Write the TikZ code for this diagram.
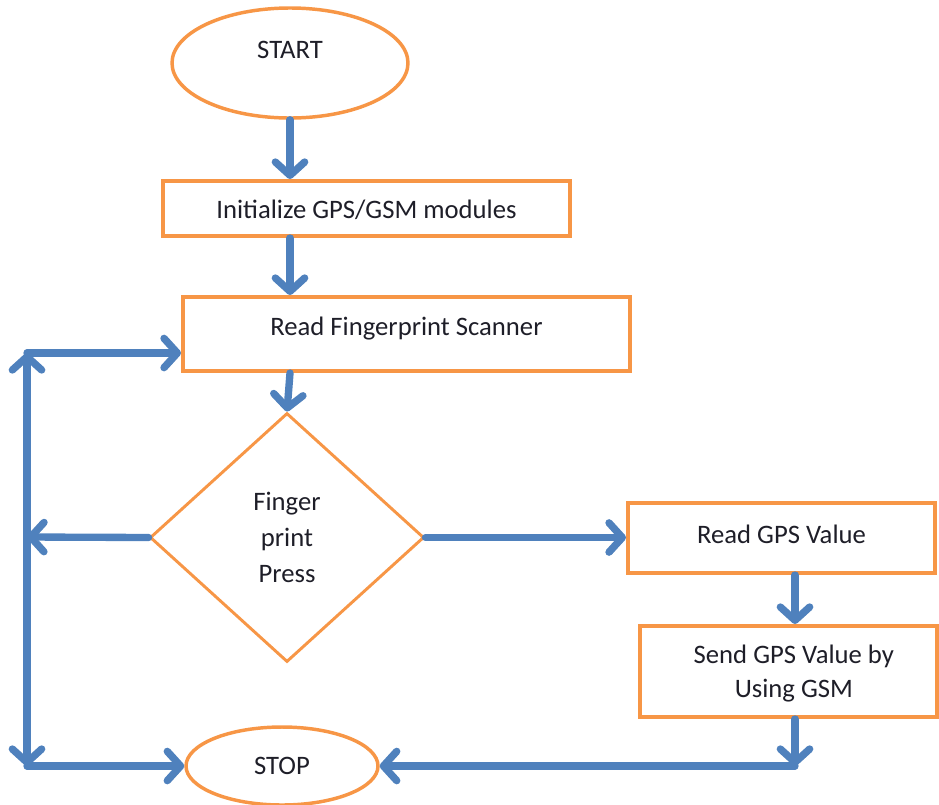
\documentclass[tikz,border=0pt]{standalone}
\usepackage{fontspec}
\setmainfont{Carlito}
\usetikzlibrary{shapes.geometric,arrows.meta,fit}
\definecolor{flowblue}{RGB}{79,129,189}
\definecolor{floworange}{RGB}{247,150,70}
\definecolor{txt}{RGB}{30,30,40}
\newcommand{\flowfont}{\fontsize{20}{26}\selectfont}
\tikzset{
  box/.style={draw=floworange, line width=3pt, inner sep=0pt, text=txt, font=\flowfont, align=center},
  term/.style={draw=floworange, line width=2.6pt, ellipse, inner sep=0pt, text=txt, font=\flowfont},
  decide/.style={draw=floworange, line width=2.2pt, diamond, inner sep=0pt, text=txt, font=\fontsize{20}{27}\selectfont, align=center},
  lbl/.style={text=txt, font=\flowfont, align=center},
  conn/.style={draw=flowblue, line width=5.5pt, line cap=round,
    arrows={-{Straight Barb[length=10pt,width=22pt,round]}},
    preaction={draw=gray!65, transform canvas={shift={(1.4pt,-1.8pt)}}}},
}
\begin{document}
\begin{tikzpicture}[x=0.75pt,y=-0.75pt]
\useasboundingbox (0,0) rectangle (939,804);
% nodes
\node[term, minimum width=177pt, minimum height=82.5pt, label={[lbl,yshift=10pt]center:START}] (start) at (290,63) {};
\node[box, fit={(163,181) (570,236)}, label={[lbl,yshift=-1pt]center:Initialize GPS/GSM modules}] (init) {};
\node[box, fit={(183,297) (630,371)}, label={[lbl,yshift=4pt]center:Read Fingerprint Scanner}] (read) {};
\node[decide, minimum width=205.5pt, minimum height=186.75pt] (dia) at (287,537.5) {Finger\\print\\Press};
\node[box, fit={(628,503) (935,573)}, label={[lbl,yshift=3pt]center:Read GPS Value}] (gps) {};
\node[box, fit={(640,626) (937,717)}, label={[lbl,yshift=-1.5pt,xshift=4pt]center:Send GPS Value by\\Using GSM}] (send) {};
\node[term, minimum width=144pt, minimum height=58.5pt] (stop) at (282,766) {STOP};
% helper coordinates
\coordinate (rx) at (795,0);
\coordinate (corner) at (795,766);
\coordinate (ltop) at (27,353);
\coordinate (lmid) at (27,537);
\coordinate (lbot) at (27,766);
% connectors
\draw[conn] (start.south) -- (start.south |- init.north);
\draw[conn] (start.south |- init.south) -- (start.south |- read.north);
\draw[conn] (start.south |- read.south) -- (dia.north);
\draw[conn] (dia.east) -- (gps.west |- dia.east);
\draw[conn] (rx |- gps.south) -- (rx |- send.north);
\draw[conn] (rx |- send.south) -- (corner);
\draw[conn] (corner) -- (stop.east);
\draw[conn] (dia.west) -- (lmid);
\draw[conn, arrows={{Straight Barb[length=10pt,width=22pt,round]}-{Straight Barb[length=10pt,width=22pt,round]}}] (ltop) -- (lbot);
\draw[conn] (ltop) -- (ltop -| read.west);
\draw[conn] (lbot) -- (stop.west);
\end{tikzpicture}
\end{document}
